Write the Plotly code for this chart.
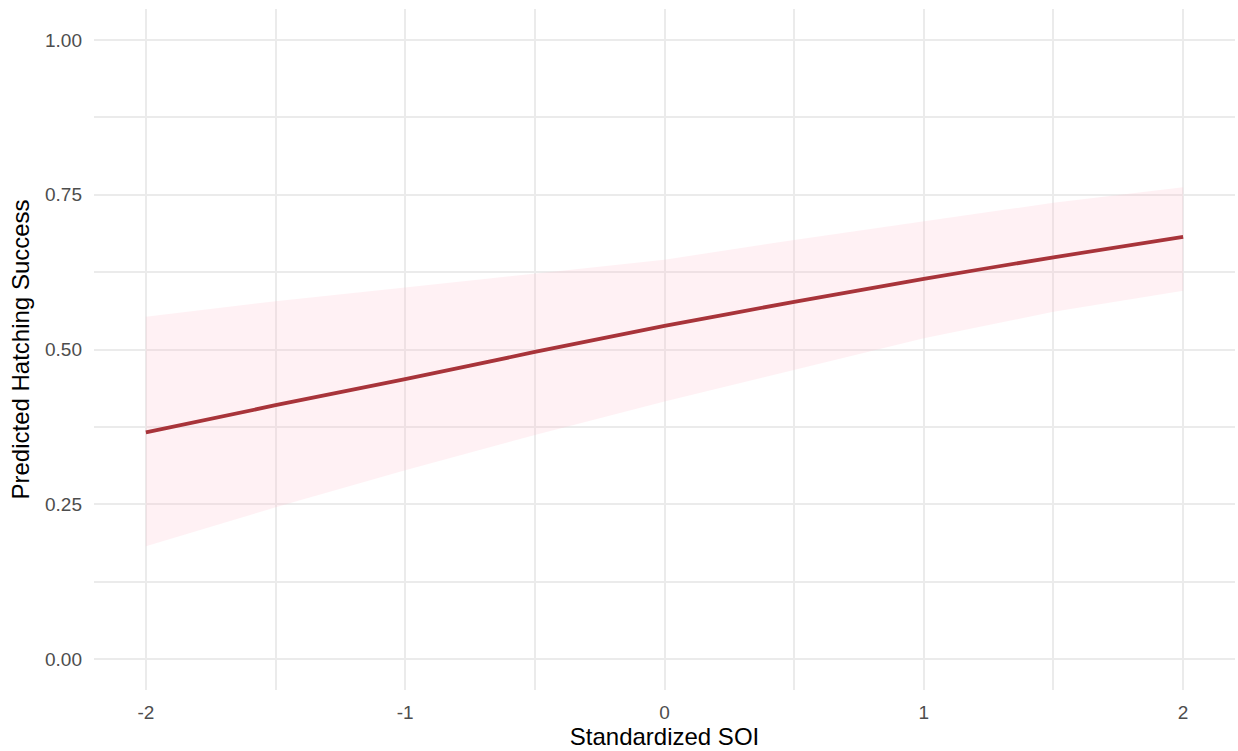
import plotly.graph_objects as go

soi = [-2.0, -1.5, -1.0, -0.5, 0.0, 0.5, 1.0, 1.5, 2.0]
pred = [0.366, 0.410, 0.452, 0.496, 0.538, 0.577, 0.614, 0.649, 0.682]
lower = [0.182, 0.245, 0.305, 0.362, 0.416, 0.467, 0.518, 0.561, 0.595]
upper = [0.553, 0.578, 0.600, 0.622, 0.645, 0.677, 0.707, 0.737, 0.762]

x_ticks = [-2, -1, 0, 1, 2]
x_ticklabels = ["-2", "-1", "0", "1", "2"]
y_ticks = [0.0, 0.25, 0.5, 0.75, 1.0]
y_ticklabels = ["0.00", "0.25", "0.50", "0.75", "1.00"]

fig = go.Figure()
fig.add_trace(go.Scatter(x=soi, y=lower, mode="lines", line=dict(width=0, color="rgba(0,0,0,0)"),
                         showlegend=False, hoverinfo="skip"))
fig.add_trace(go.Scatter(x=soi, y=upper, mode="lines", line=dict(width=0, color="rgba(0,0,0,0)"),
                         fill="tonexty", fillcolor="rgba(255,192,203,0.22)",
                         showlegend=False, hoverinfo="skip"))
fig.add_trace(go.Scatter(x=soi, y=pred, mode="lines", line=dict(width=3.8, color="#a8343a", shape="spline", smoothing=0.6),
                         showlegend=False))

grid = "#ebebeb"
tickfont = dict(family="Liberation Sans, Arial, sans-serif", size=19, color="#4d4d4d")
titlefont = dict(family="Liberation Sans, Arial, sans-serif", size=24, color="black")
fig.update_layout(
    width=1238, height=751,
    margin=dict(l=94, r=3, t=9, b=61),
    plot_bgcolor="white", paper_bgcolor="white",
    font=dict(family="Liberation Sans, Arial, sans-serif", color="#4d4d4d", size=19),
    xaxis=dict(
        range=[-2.2, 2.2], tickvals=x_ticks, ticktext=x_ticklabels, tickfont=tickfont,
        showgrid=True, gridcolor=grid, gridwidth=2, zeroline=False, showline=False,
        ticks="", ticklabelstandoff=9,
        minor=dict(dtick=0.5, tick0=0, showgrid=True, gridcolor=grid, gridwidth=1.5),
        title=dict(text="Standardized SOI", font=titlefont, standoff=2),
    ),
    yaxis=dict(
        range=[-0.05, 1.05], tickvals=y_ticks, ticktext=y_ticklabels, tickfont=tickfont,
        showgrid=True, gridcolor=grid, gridwidth=2, zeroline=False, showline=False,
        ticks="", ticklabelstandoff=11,
        minor=dict(dtick=0.125, tick0=0, showgrid=True, gridcolor=grid, gridwidth=1.5),
        title=dict(text="Predicted Hatching Success", font=titlefont, standoff=8),
    ),
)

fig.write_html("out.html")
